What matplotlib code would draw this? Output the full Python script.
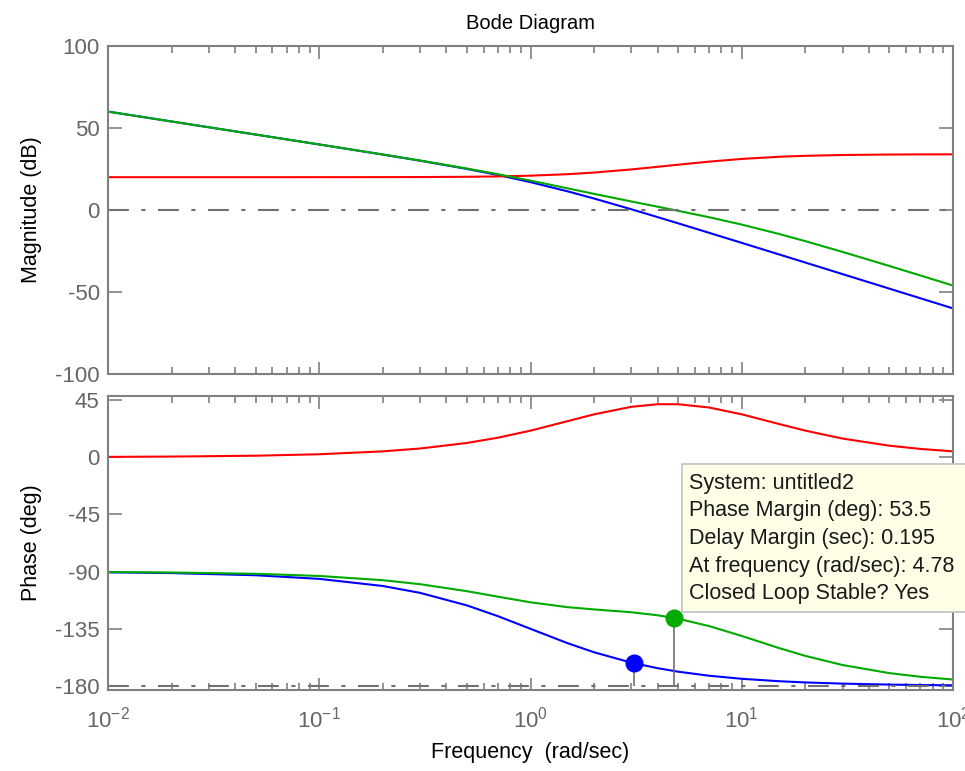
import numpy as np
import matplotlib
matplotlib.use("Agg")
import matplotlib.pyplot as plt
from matplotlib.patches import Rectangle

plt.rcParams['font.family'] = ['Liberation Sans', 'DejaVu Sans']
plt.rcParams['mathtext.fontset'] = 'custom'
plt.rcParams['mathtext.rm'] = 'Liberation Sans'
plt.rcParams['mathtext.it'] = 'Liberation Sans'
plt.rcParams['axes.unicode_minus'] = False

# frequency grid (rad/sec)
w = [0.01, 0.02, 0.05, 0.1, 0.2, 0.3, 0.5, 0.7, 1, 1.5, 2, 3, 4, 5, 7,
     10, 15, 20, 30, 50, 70, 100]

# plant
plant_mag = [60.0, 53.98, 46.01, 39.96, 33.81, 30.08, 25.05, 21.37, 16.99, 11.36,
             6.99, 0.46, -4.34, -8.13, -13.89, -20.04, -27.06, -32.05, -39.09,
             -47.96, -53.80, -60.0]
plant_phase = [-90.57, -91.15, -92.86, -95.71, -101.31, -106.70, -116.57, -124.99,
               -135.0, -146.31, -153.43, -161.57, -165.96, -168.69, -171.87,
               -174.29, -176.19, -177.14, -178.09, -178.85, -179.18, -179.43]

# lead compensator
lead_mag = [20.0, 20.0, 20.0, 20.01, 20.04, 20.09, 20.25, 20.48, 20.93, 21.84,
            22.84, 24.74, 26.35, 27.63, 29.49, 31.14, 32.46, 33.05, 33.54,
            33.82, 33.90, 33.94]
lead_phase = [0.23, 0.46, 1.15, 2.29, 4.57, 6.81, 11.18, 15.29, 20.85, 28.34,
              33.69, 39.61, 41.63, 41.63, 39.06, 33.69, 26.10, 20.86, 14.62,
              9.02, 6.49, 4.56]

# compensated loop
comp_mag = [60.0, 53.98, 46.01, 39.97, 33.85, 30.17, 25.30, 21.85, 17.92, 13.20,
            9.83, 5.20, 2.01, -0.50, -4.40, -8.90, -14.60, -19.00, -25.55,
            -34.14, -39.90, -46.06]
comp_phase = [-90.34, -90.69, -91.72, -93.42, -96.75, -99.89, -105.39, -109.70,
              -114.15, -117.97, -119.74, -121.96, -124.33, -127.06, -132.81,
              -140.60, -150.09, -156.28, -163.47, -169.83, -172.69, -174.87]

# phase margin points (crossover freq, phase)
pm_w = [3.08, 4.78]
pm_phase = [-162.0, -126.5]

info_lines = ["System: untitled2",
              "Phase Margin (deg): 53.5",
              "Delay Margin (sec): 0.195",
              "At frequency (rad/sec): 4.78",
              "Closed Loop Stable? Yes"]

BLUE = '#0000ff'
RED = '#ff0000'
GREEN = '#00aa00'
GRAY = '#707070'

W, H = 965, 771
fig = plt.figure(figsize=(W / 100, H / 100), dpi=100)
ax1 = fig.add_axes([108 / W, 1 - 374 / H, 845 / W, 328 / H])
ax2 = fig.add_axes([108 / W, 1 - 690 / H, 845 / W, 294 / H])

lw = 1.5
ax1.plot(w, plant_mag, color=BLUE, lw=lw)
ax1.plot(w, lead_mag, color=RED, lw=lw)
ax1.plot(w, comp_mag, color=GREEN, lw=lw)
ax1.axhline(0, color=GRAY, lw=1.5, dashes=(10, 6, 2, 6))
ax1.set_ylim(-100, 100)
ax1.set_yticks([100, 50, 0, -50, -100])
ax1.set_ylabel('Magnitude (dB)', fontsize=15.5)
ax1.tick_params(axis='x', labelbottom=False)
ax1.set_title('Bode Diagram', fontsize=14.5, pad=12)

ax2.plot(w, plant_phase, color=BLUE, lw=lw)
ax2.plot(w, lead_phase, color=RED, lw=lw)
ax2.plot(w, comp_phase, color=GREEN, lw=lw)
ax2.axhline(-180, color=GRAY, lw=1.5, dashes=(10, 6, 2, 6))
ax2.vlines(pm_w, -180, pm_phase, color=GRAY, lw=1.2)
ax2.plot(pm_w[0], pm_phase[0], 'o', color=BLUE, ms=12)
ax2.plot(pm_w[1], pm_phase[1], 'o', color=GREEN, ms=12)
ax2.set_ylim(-183.1, 48.1)
ax2.set_yticks([45, 0, -45, -90, -135, -180])
ax2.set_ylabel('Phase (deg)', fontsize=15.5)
ax2.set_xlabel('Frequency  (rad/sec)', fontsize=15.5, labelpad=7)

for ax in (ax1, ax2):
    ax.set_xscale('log')
    ax.set_xlim(1e-2, 1e2)
    ax.set_xticks([1e-2, 1e-1, 1e0, 1e1, 1e2])
    for sp in ax.spines.values():
        sp.set_color('#808080')
        sp.set_linewidth(1.5)
    ax.tick_params(which='both', direction='in', top=True, right=True,
                   colors='#808080', labelcolor='#666666', labelsize=16)
    ax.tick_params(which='major', length=9, width=1.2)
    ax.tick_params(which='minor', length=5, width=1.2)
    ax.tick_params(axis='y', which='major', length=10, pad=6)
    ax.tick_params(axis='x', pad=12)
    ax.yaxis.set_label_coords(-0.078, 0.5)

# margin readout box
fig.patches.append(Rectangle((682 / W, 1 - 612 / H), 300 / W, 148 / H,
                             transform=fig.transFigure, facecolor='#ffffe8',
                             edgecolor='#c0c0c0', lw=1.2, zorder=5))
for i, line in enumerate(info_lines):
    fig.text(689 / W, 1 - (483 + 27.7 * i) / H, line, fontsize=15.5,
             color='#1a1a1a', va='center', ha='left', zorder=6)

fig.savefig('out.png', dpi=100)
